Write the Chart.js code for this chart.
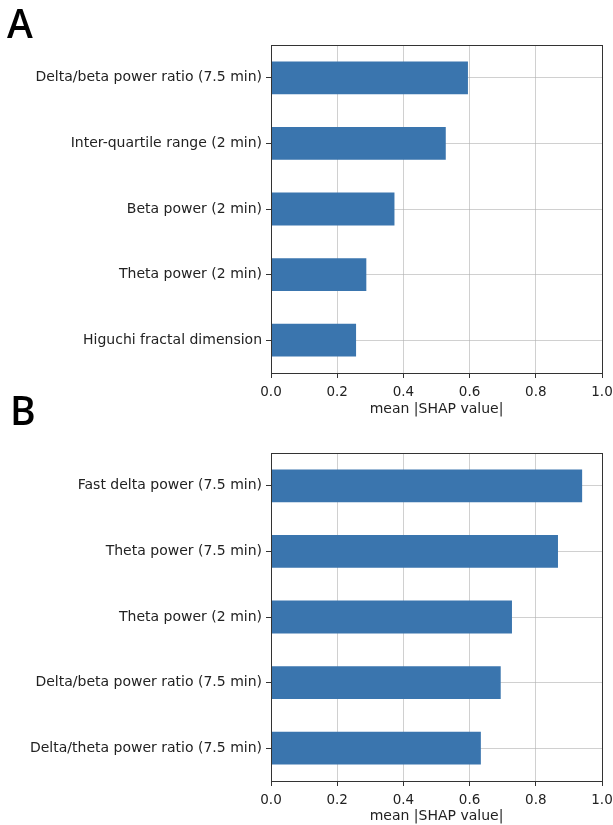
<!DOCTYPE html>
<html>
<head>
<meta charset="utf-8">
<script src="https://cdn.jsdelivr.net/npm/chart.js@4.4.1/dist/chart.umd.min.js"></script>
<style>
  html, body { margin: 0; padding: 0; background: #fff; }
  body { width: 613px; height: 825px; position: relative; overflow: hidden; }
  .painel { position: absolute; left: 0; width: 613px; }
  .letra { position: absolute; font-family: "Open Sans", sans-serif; font-size: 39px; font-weight: 600; line-height: 39px; color: #000; }
</style>
</head>
<body>
<div class="painel" style="top:0; height:418px;"><canvas id="chartA" width="613" height="418"></canvas></div>
<div class="painel" style="top:412px; height:413px;"><canvas id="chartB" width="613" height="413"></canvas></div>
<div class="letra" style="left:7px; top:3px;">A</div>
<div class="letra" style="left:10px; top:390px;">B</div>
<script>
// Painel A
const labelsA = [
    "Delta/beta power ratio (7.5 min)",
    "Inter-quartile range (2 min)",
    "Beta power (2 min)",
    "Theta power (2 min)",
    "Higuchi fractal dimension"
];
const valuesA = [0.595, 0.528, 0.373, 0.288, 0.257];

// Painel B
const labelsB = [
    "Fast delta power (7.5 min)",
    "Theta power (7.5 min)",
    "Theta power (2 min)",
    "Delta/beta power ratio (7.5 min)",
    "Delta/theta power ratio (7.5 min)"
];
const valuesB = [0.940, 0.867, 0.728, 0.694, 0.634];

const xTitle = "mean |SHAP value|";

// moldura completa em volta da área do gráfico
const frame = {
    id: "frame",
    afterDraw(chart) {
        const { ctx, chartArea: a } = chart;
        ctx.save();
        ctx.strokeStyle = "#333";
        ctx.lineWidth = 1;
        ctx.strokeRect(Math.round(a.left) + 0.5, Math.round(a.top) + 0.5,
            Math.round(a.right - a.left), Math.round(a.bottom - a.top));
        ctx.restore();
    }
};

function createShapChart(id, labels, values, topPad, xHeight) {
    const family = "'DejaVu Sans', sans-serif";
    return new Chart(document.getElementById(id), {
        type: "bar",
        plugins: [frame],
        data: {
            labels: labels,
            datasets: [{
                data: values,
                backgroundColor: "#3a75ae",
                borderWidth: 0,
                barPercentage: 0.5,
                categoryPercentage: 1
            }]
        },
        options: {
            indexAxis: "y",
            responsive: false,
            animation: false,
            layout: { padding: { top: topPad, right: 11, left: 0, bottom: 0 } },
            plugins: { legend: { display: false }, tooltip: { enabled: false } },
            scales: {
                x: {
                    z: 1,
                    min: 0,
                    max: 1,
                    ticks: {
                        stepSize: 0.2,
                        color: "#222",
                        font: { family: family, size: 13.5 },
                        padding: 6,
                        callback: v => v.toFixed(1)
                    },
                    grid: { color: "rgba(176,176,176,0.6)", tickColor: "#333", tickLength: 5 },
                    border: { color: "#333" },
                    title: { display: true, text: xTitle, color: "#222", font: { family: family, size: 14 }, padding: { top: 2, bottom: 0 } },
                    afterFit(scale) {
                        scale.height = xHeight;
                        // o rótulo "1.0" pode sair um pouco da área
                        scale.paddingLeft = 0;
                        scale.paddingRight = 0;
                    }
                },
                y: {
                    z: 1,
                    ticks: { color: "#222", font: { family: family, size: 14 }, padding: 4 },
                    grid: { offset: false, color: "rgba(176,176,176,0.6)", tickColor: "#333", tickLength: 5 },
                    border: { color: "#333" },
                    afterFit(scale) {
                        scale.width = 271;
                        scale.paddingTop = 0;
                        scale.paddingBottom = 0;
                    }
                }
            }
        }
    });
}

createShapChart("chartA", labelsA, valuesA, 45, 45);
createShapChart("chartB", labelsB, valuesB, 41, 44);
</script>
</body>
</html>
